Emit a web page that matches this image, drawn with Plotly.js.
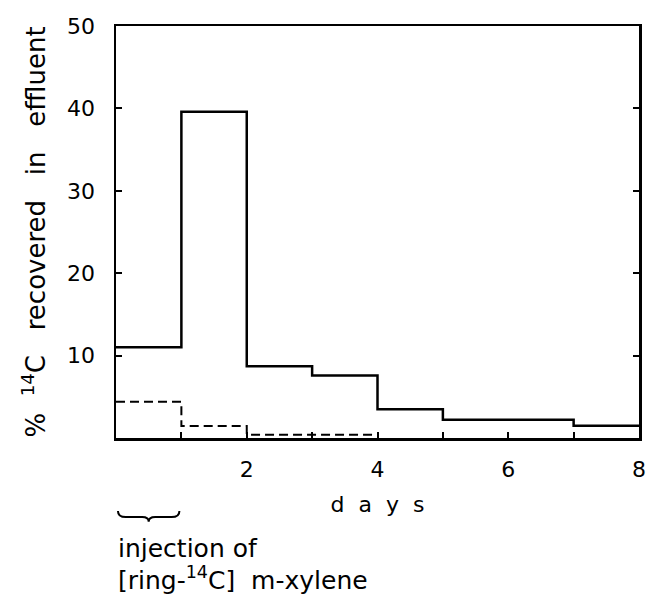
<!DOCTYPE html>
<html>
<head>
<meta charset="utf-8">
<script src="https://cdn.plot.ly/plotly-3.0.1.min.js"></script>
<style>html,body{margin:0;padding:0;background:#fff;}#chart{width:647px;height:596px;}</style>
</head>
<body>
<div id="chart"></div>
<script>
// Bin start days and values (% 14C recovered in effluent)
var binStartSolid = [0, 1, 2, 3, 4, 5, 6, 7];
var binEndSolid = 8;
var solidValues = [11.0, 39.6, 8.7, 7.6, 3.5, 2.2, 2.2, 1.5];

var binStartDashed = [0, 1, 2, 3];
var binEndDashed = 4;
var dashedValues = [4.4, 1.45, 0.4, 0.4];

var xTickVals = [2, 4, 6, 8];
var xTickText = ['2', '4', '6', '8'];
var yTickVals = [10, 20, 30, 40, 50];

function stepXY(starts, end, vals) {
  return {x: starts.concat([end]), y: vals.concat([vals[vals.length - 1]])};
}
var s = stepXY(binStartSolid, binEndSolid, solidValues);
var d = stepXY(binStartDashed, binEndDashed, dashedValues);

var FONT = 'DejaVu Sans, Liberation Sans, sans-serif';

var traces = [
  {x: s.x, y: s.y, mode: 'lines', line: {shape: 'hv', color: '#000', width: 2.5}, hoverinfo: 'skip', showlegend: false},
  {x: d.x, y: d.y, mode: 'lines', line: {shape: 'hv', color: '#000', width: 2, dash: '9px,5px'}, hoverinfo: 'skip', showlegend: false}
];

var yT = -0.177, yM = -0.192, yB = -0.203;
var bracePath = 'M 0.03,' + yT + ' Q 0.03,' + yM + ' 0.15,' + yM +
  ' L 0.40,' + yM + ' Q 0.5,' + yM + ' 0.5,' + yB +
  ' Q 0.5,' + yM + ' 0.60,' + yM +
  ' L 0.85,' + yM + ' Q 0.97,' + yM + ' 0.97,' + yT;

var layout = {
  width: 647, height: 596,
  margin: {l: 116, r: 8, t: 26, b: 158},
  paper_bgcolor: '#fff', plot_bgcolor: '#fff',
  font: {family: FONT, color: '#000', size: 22},
  xaxis: {
    range: [0, 8], tickvals: xTickVals, ticktext: xTickText,
    ticks: 'inside', ticklen: 6, tickwidth: 2, tickcolor: '#000',
    minor: {dtick: 1, tick0: 0, ticks: 'inside', ticklen: 6, tickwidth: 2, tickcolor: '#000', showgrid: false},
    showline: true, linecolor: '#000', linewidth: 2.5, mirror: true,
    showgrid: false, zeroline: false, fixedrange: true,
    ticklabelstandoff: 10,
    tickfont: {family: FONT, size: 22, color: '#000'},
    title: {text: 'd  a  y  s', font: {family: FONT, size: 22, color: '#000'}, standoff: 16}
  },
  yaxis: {
    range: [0, 50], tickvals: yTickVals,
    ticks: 'inside', ticklen: 6, tickwidth: 2, tickcolor: '#000',
    showline: true, linecolor: '#000', linewidth: 2.5, mirror: 'ticks',
    showgrid: false, zeroline: false, fixedrange: true,
    ticklabelstandoff: 14,
    tickfont: {family: FONT, size: 22, color: '#000'},
    title: {text: '%  <sup>14</sup>C   recovered   in   effluent', font: {family: FONT, size: 26, color: '#000'}, standoff: 14}
  },
  shapes: [
    {type: 'path', xref: 'x', yref: 'paper', path: bracePath, line: {color: '#000', width: 2}}
  ],
  annotations: [
    {xref: 'x', yref: 'paper', x: 0, y: -0.268, xanchor: 'left', yanchor: 'middle', showarrow: false,
     text: 'injection of', font: {family: FONT, size: 25, color: '#000'}},
    {xref: 'x', yref: 'paper', x: 0, y: -0.342, xanchor: 'left', yanchor: 'middle', showarrow: false,
     text: '[ring-<sup>14</sup>C]  m-xylene', font: {family: FONT, size: 25, color: '#000'}}
  ]
};

Plotly.newPlot('chart', traces, layout, {staticPlot: true, displayModeBar: false});
</script>
</body>
</html>
